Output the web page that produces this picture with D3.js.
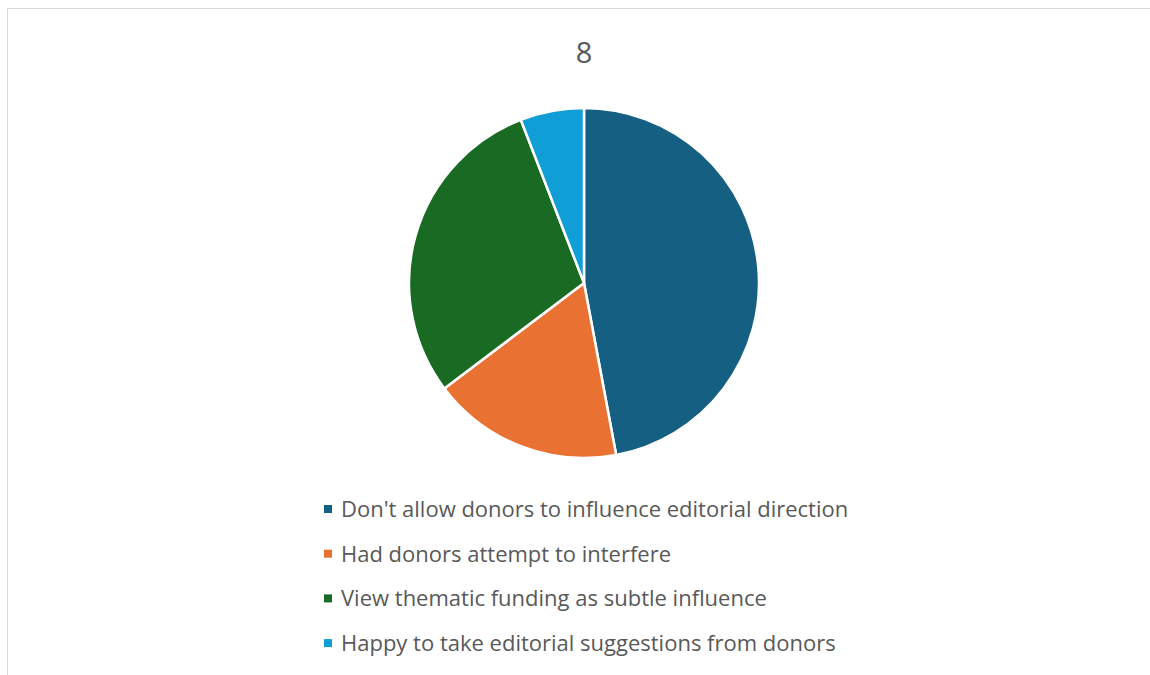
<!DOCTYPE html>
<html>
<head>
<meta charset="utf-8">
<script src="https://cdn.jsdelivr.net/npm/d3@7"></script>
<style>
  body { margin: 0; background: #fff; }
  #chart { width: 1150px; height: 675px; }
</style>
</head>
<body>
<div id="chart"></div>
<script>
const title = "8";
const categories = [
  "Don't allow donors to influence editorial direction",
  "Had donors attempt to interfere",
  "View thematic funding as subtle influence",
  "Happy to take editorial suggestions from donors"
];
const values = [8, 3, 5, 1];
const colors = ["#156082", "#E97132", "#196B24", "#0F9ED5"];

const width = 1150;
const height = 675;

const svg = d3.select("#chart")
  .append("svg")
  .attr("width", width)
  .attr("height", height);

// chart area frame
svg.append("rect")
  .attr("x", 7.5)
  .attr("y", 8.5)
  .attr("width", width + 10)
  .attr("height", height + 10)
  .attr("fill", "#fff")
  .attr("stroke", "#d9d9d9")
  .attr("stroke-width", 1);

svg.append("text")
  .attr("x", 584)
  .attr("y", 63)
  .attr("text-anchor", "middle")
  .attr("font-family", "'Open Sans', sans-serif")
  .attr("font-size", 29)
  .attr("fill", "#595959")
  .text(title);

const data = categories.map((c, i) => ({ name: c, value: values[i], color: colors[i] }));

const pie = d3.pie()
  .value(d => d.value)
  .sort(null);

const arc = d3.arc()
  .innerRadius(0)
  .outerRadius(175);

svg.append("g")
  .attr("transform", "translate(584,283)")
  .selectAll("path")
  .data(pie(data))
  .enter()
  .append("path")
  .attr("d", arc)
  .attr("fill", d => d.data.color)
  .attr("stroke", "#fff")
  .attr("stroke-width", 2.5)
  .attr("stroke-linejoin", "round");

// legend
const legend = svg.append("g")
  .attr("transform", "translate(324,509)");

const row = legend.selectAll("g")
  .data(data)
  .enter()
  .append("g")
  .attr("transform", (d, i) => `translate(0,${i * 44.7})`);

row.append("rect")
  .attr("x", 0)
  .attr("y", -4)
  .attr("width", 8)
  .attr("height", 8)
  .attr("fill", d => d.color);

row.append("text")
  .attr("x", 17)
  .attr("y", 0)
  .attr("dy", "0.36em")
  .attr("font-family", "'Open Sans', sans-serif")
  .attr("font-size", 22)
  .attr("fill", "#595959")
  .text(d => d.name);
</script>
</body>
</html>
